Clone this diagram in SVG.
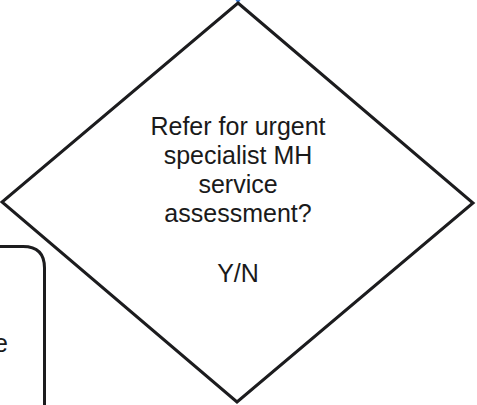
<svg xmlns="http://www.w3.org/2000/svg" width="477" height="405" viewBox="0 0 477 405">
<style>
.shape{fill:#ffffff;stroke:#1c1c1e;stroke-width:3;stroke-linejoin:miter}
.lbl{font-family:"Liberation Sans",Arial,sans-serif;font-size:25px;fill:#1a1a1a;text-anchor:middle}
</style>
<rect x="0" y="0" width="477" height="405" fill="#ffffff"/>
<g id="connectors">
<path d="M235.5,0 L240.5,0 L238,4 Z" fill="#3a7bd5"/>
</g>
<g id="node-left">
<path class="shape" d="M-20,246.5 L23,246.5 Q44.5,246.5 44.5,268 L44.5,410"/>
<text class="lbl" x="-6" y="352" style="text-anchor:start">e</text>
</g>
<g id="node-decision">
<polygon class="shape" points="238,3 473,203 237,402 2,202"/>
<text class="lbl" x="238" y="135">Refer for urgent</text>
<text class="lbl" x="238" y="164">specialist MH</text>
<text class="lbl" x="238" y="193">service</text>
<text class="lbl" x="238" y="222">assessment?</text>
<text class="lbl" x="238" y="282">Y/N</text>
</g>
</svg>
